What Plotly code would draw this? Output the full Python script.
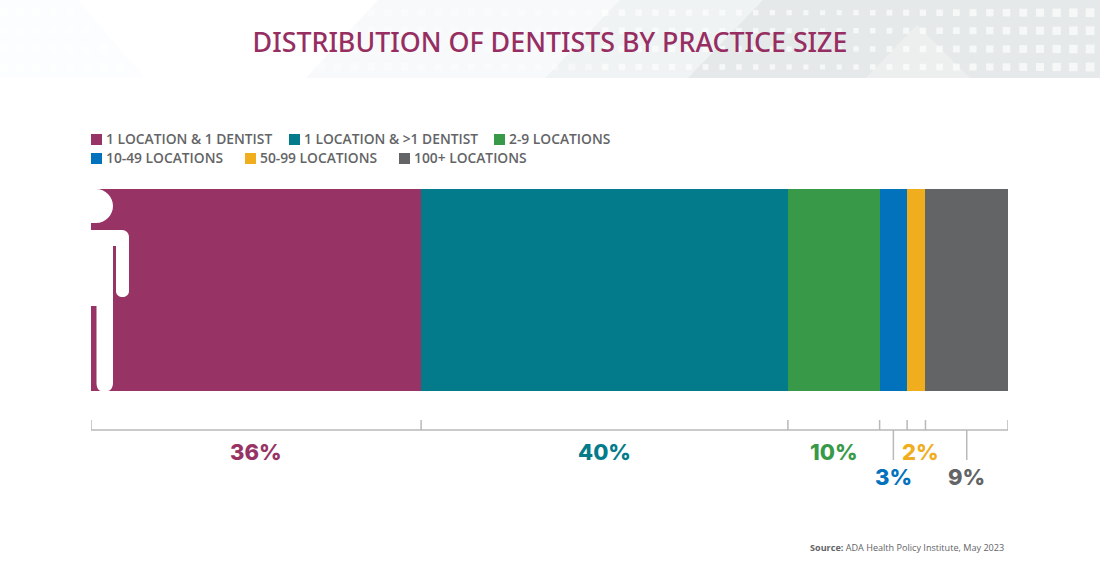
#!/usr/bin/env python
# -*- coding: utf-8 -*-

"""
Distribution of dentists by practice size
"""

import numpy as np
import plotly.graph_objects as go

W = 1100
H = 576

categories = ['1 LOCATION & 1 DENTIST', '1 LOCATION & >1 DENTIST', '2-9 LOCATIONS',
              '10-49 LOCATIONS', '50-99 LOCATIONS', '100+ LOCATIONS']
shares = [36, 40, 10, 3, 2, 9]
colors = ['#973365', '#047b8a', '#389a48', '#0372bd', '#f0ae1e', '#636466']

title_text = 'DISTRIBUTION OF DENTISTS BY PRACTICE SIZE'
source_text = '<b>Source:</b> ADA Health Policy Institute, May 2023'

# legend entries: left pixel of swatch, top pixel of swatch
legend_pos = [(91, 134), (289, 134), (494, 134), (91, 153), (245, 153), (399, 153)]
# percent labels: pixel shift from segment middle, pixel y
label_pos = [(0, 452), (0, 452), (0, 452), (0, 477), (4, 452), (0, 477)]
# small segments have a leader line going down to their label
leaders = [False, False, False, True, False, True]

LABEL_FONT = 'Inter'
TEXT_FONT = 'Open Sans'
TITLE_FONT = 'Noto Sans'


def px(x):
    return x / W


def py(y):
    return 1 - y / H


def paper_path(cmds):
    """Construit un path SVG en coordonnées papier depuis des pixels"""
    out = []
    for c in cmds:
        if c == 'Z':
            out.append('Z')
        else:
            pts = ' '.join(f'{px(c[i]):.5f},{py(c[i + 1]):.5f}' for i in range(1, len(c), 2))
            out.append(c[0] + pts)
    return ' '.join(out)


def rect(x0, y0, x1, y1, color):
    return dict(type='rect', xref='paper', yref='paper', x0=px(x0), x1=px(x1),
                y0=py(y0), y1=py(y1), fillcolor=color, line_width=0, layer='below')


def poly(pts, col):
    cmds = [('M',) + pts[0]] + [('L',) + p for p in pts[1:]] + ['Z']
    return dict(type='path', xref='paper', yref='paper', path=paper_path(cmds),
                fillcolor=col, line_width=0, layer='below')


def square_side(xc):
    # les carrés rétrécissent vers x=830 puis regrossissent
    if xc < 100:
        return 8.5
    if xc < 830:
        return 8.5 - 3.5 * (xc - 330) / 500
    return 5 + 4 * (xc - 830) / 270


def header_shapes():
    """Bandeau gris clair avec motif de carrés"""
    shapes = []
    band = 78
    shapes.append(poly([(0, 0), (78, 0), (145, band), (0, band)], 'rgba(225,235,240,0.09)'))
    shapes.append(poly([(378, 0), (1100, 0), (1100, band), (306, band)], 'rgba(225,232,236,0.25)'))
    shapes.append(poly([(620, 0), (1100, 0), (1100, band), (545, band)], 'rgba(215,218,218,0.2)'))
    shapes.append(poly([(763, 0), (1100, 0), (1100, band), (688, band)], 'rgba(205,207,205,0.28)'))
    # triangle plus clair sous le titre à droite
    shapes.append(poly([(917, 25), (970, band), (866, band)], 'rgba(250,252,253,0.35)'))
    xs = 3.3 + 16.72 * np.arange(66)
    for yc in (12.7, 30.7, 49, 67):
        for xc in xs:
            # carrés seulement dans les deux zones du bandeau
            left_end = 72 + (yc / band) * 60
            mid_start = 378 - (yc / band) * 72
            if left_end < xc < mid_start:
                continue
            side = square_side(xc)
            alpha = 0.35 if xc < 600 else 0.62
            shapes.append(rect(xc - side / 2, yc - side / 2, xc + side / 2, yc + side / 2,
                               f'rgba(255,255,255,{alpha})'))
    return shapes


def icon_shape():
    """Silhouette blanche posée sur le premier segment"""
    k = 0.5523 * 17
    cmds = [
        ('M', 91, 189), ('L', 96, 189),
        ('C', 96 + k, 189, 113, 206 - k, 113, 206),
        ('C', 113, 206 + k, 96 + k, 223, 96, 223),
        ('L', 91, 223), ('L', 91, 230), ('L', 122, 230),
        ('C', 126, 230, 129, 233, 129, 237),
        ('L', 129, 291), ('C', 129, 299, 116, 299, 116, 291),
        ('L', 116, 246), ('L', 113, 246),
        ('L', 113, 383), ('C', 113, 388, 110, 391, 108, 391),
        ('L', 101, 391), ('C', 99, 391, 96.5, 388, 96.5, 383),
        ('L', 96.5, 306), ('L', 91, 306), 'Z',
    ]
    return dict(type='path', xref='paper', yref='paper', path=paper_path(cmds),
                fillcolor='white', line_width=0, layer='above')


fig = go.Figure()
for name, share, color in zip(categories, shares, colors):
    fig.add_trace(go.Bar(y=['Dentists'], x=[share], name=name, orientation='h',
                         marker=dict(color=color, line_width=0), showlegend=False))

edges = np.concatenate([[0], np.cumsum(shares)])
mids = (edges[:-1] + edges[1:]) / 2

shapes = header_shapes()
shapes.append(icon_shape())

# Accolade sous la barre
BRACKET = '#b9b9b9'
shapes.append(dict(type='line', xref='x', yref='paper', x0=0, x1=float(edges[-1]),
                   y0=py(430), y1=py(430), line=dict(color=BRACKET, width=1.5)))
for e in edges:
    shapes.append(dict(type='line', xref='x', yref='paper', x0=float(e), x1=float(e),
                       y0=py(420), y1=py(430), line=dict(color=BRACKET, width=1.5)))
for m, lead in zip(mids, leaders):
    if lead:
        shapes.append(dict(type='line', xref='x', yref='paper', x0=float(m), x1=float(m),
                           y0=py(430), y1=py(460), line=dict(color=BRACKET, width=1.5)))

annotations = []
for m, share, color, (dx, y) in zip(mids, shares, colors, label_pos):
    annotations.append(dict(x=float(m), xref='x', y=py(y), yref='paper', xshift=dx,
                            text=f'{share}%', showarrow=False, xanchor='center', yanchor='middle',
                            font=dict(family=LABEL_FONT, size=22, color=color, weight=800)))

# Légende manuelle : deux lignes alignées à gauche
for name, color, (x, y) in zip(categories, colors, legend_pos):
    shapes.append(rect(x, y, x + 11, y + 11, color))
    annotations.append(dict(x=px(x + 13), xref='paper', y=py(y + 4.5), yref='paper', text=name,
                            showarrow=False, xanchor='left', yanchor='middle',
                            font=dict(family=TEXT_FONT, size=13.8, color='#636466', weight=600)))

annotations.append(dict(x=px(1006), xref='paper', y=py(547), yref='paper', text=source_text,
                        showarrow=False, xanchor='right', yanchor='middle',
                        font=dict(family=TEXT_FONT, size=9.1, color='#636466')))

fig.update_layout(
    width=W,
    height=H,
    margin=dict(l=0, r=0, t=0, b=0, autoexpand=False),
    paper_bgcolor='white',
    plot_bgcolor='white',
    barmode='stack',
    bargap=0,
    showlegend=False,
    title=dict(text=title_text, x=0.5, xref='paper', xanchor='center', y=py(43), yref='paper',
               yanchor='middle', font=dict(family=TITLE_FONT, size=26.8, color='#962e62', weight=500)),
    xaxis=dict(domain=[px(91), px(1008)], range=[0, 100], visible=False),
    yaxis=dict(domain=[py(391), py(189)], range=[-0.5, 0.5], visible=False),
    shapes=shapes,
    annotations=annotations,
)

# la page ne doit pas garder la marge par défaut du body
fig.write_html('out.html', config={'displayModeBar': False},
               post_script="document.body.style.margin='0';")
